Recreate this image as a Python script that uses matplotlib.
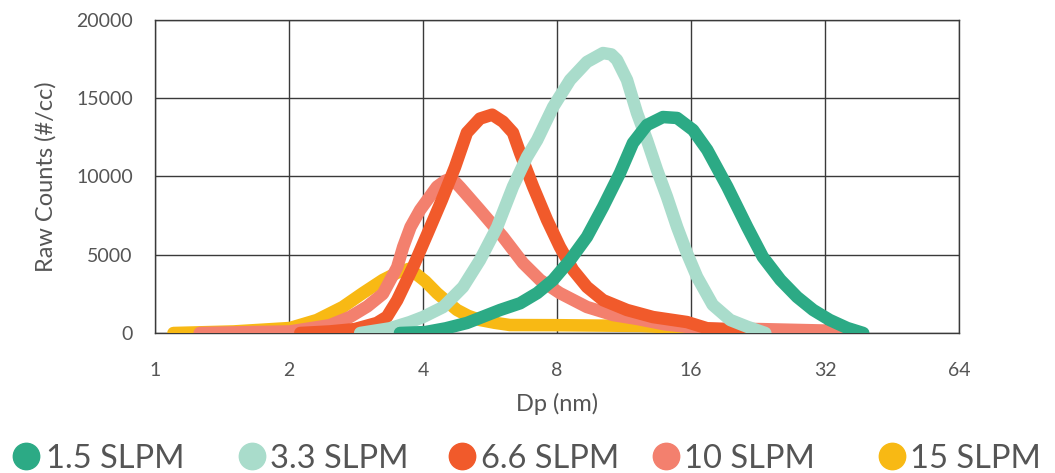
import matplotlib
matplotlib.use("Agg")
import matplotlib.pyplot as plt
from matplotlib.lines import Line2D
from matplotlib.ticker import FixedLocator, FixedFormatter

# ---- data ----
labels = ["1.5 SLPM", "3.3 SLPM", "6.6 SLPM", "10 SLPM", "15 SLPM"]
colors = ["#2CAA85", "#A9DCCB", "#F15A2B", "#F3806E", "#F8B914"]

# Dp (nm) and raw counts (#/cc)
x_15 = [3.55, 4.05, 4.5, 5.02, 5.96, 6.61, 7.22, 7.84, 8.56, 9.34, 10.15, 11.08,
        11.85, 12.74, 13.84, 14.89, 16.17, 17.4, 19.3, 21.4, 23.2, 25.4, 27.7,
        30.1, 32.8, 35.9, 39.0]
y_15 = [0, 60, 300, 640, 1470, 1900, 2550, 3390, 4660, 6140, 8050, 10220,
        12140, 13290, 13800, 13740, 12970, 11700, 9350, 6770, 4860, 3400, 2300,
        1470, 830, 320, 0]

x_33 = [2.89, 3.37, 3.74, 4.0, 4.44, 4.92, 5.37, 5.87, 6.37, 6.85, 7.22, 7.84,
        8.56, 9.34, 10.15, 10.6, 10.91, 11.49, 12.1, 12.74, 13.42, 14.13, 14.89,
        15.67, 16.51, 17.9, 19.6, 21.4, 23.5]
y_33 = [0, 300, 700, 1020, 1660, 2940, 4660, 6770, 9350, 11250, 12330, 14440,
        16170, 17320, 17890, 17800, 17450, 16170, 14060, 12330, 10420, 8700, 6770,
        5100, 3580, 1800, 830, 400, 0]

x_66 = [2.12, 2.47, 2.81, 3.15, 3.32, 3.50, 3.80, 4.10, 4.41, 4.72, 5.02, 5.37,
        5.72, 6.05, 6.37, 6.61, 7.07, 7.60, 8.12, 8.69, 9.34, 10.15, 11.49,
        13.14, 15.67, 17.4, 19.6, 21.2]
y_66 = [0, 100, 250, 640, 1040, 2100, 4220, 6390, 8500, 10600, 12800, 13700,
        13950, 13500, 12800, 11500, 9350, 7220, 5500, 4030, 2940, 2100, 1470,
        1020, 700, 300, 200, 0]

x_10 = [1.26, 2.01, 2.47, 2.74, 3.0, 3.25, 3.5, 3.61, 3.75, 3.94, 4.30, 4.50,
        4.65, 4.85, 5.37, 6.05, 6.71, 7.33, 8.12, 9.34, 10.69, 12.1, 14.0,
        16.8, 22.9, 32.8, 35.5]
y_10 = [0, 100, 500, 1020, 1700, 2500, 4200, 5500, 6770, 7860, 9350, 9750,
        9850, 9300, 7860, 6140, 4470, 3390, 2550, 1660, 1150, 900, 550,
        300, 250, 150, 0]

x_150 = [1.1, 1.5, 2.01, 2.31, 2.64, 2.93, 3.25, 3.5, 3.72, 3.85, 4.05, 4.30,
         4.55, 4.77, 5.05, 5.37, 5.8, 6.27, 8.0, 12.3, 16.0, 18.5]
y_150 = [0, 100, 320, 830, 1660, 2550, 3390, 3850, 4100, 3800, 3300, 2550,
         1950, 1470, 1100, 830, 650, 510, 500, 450, 300, 0]

series_x = [x_15, x_33, x_66, x_10, x_150]
series_y = [y_15, y_33, y_66, y_10, y_150]

x_ticks = [1, 2, 4, 8, 16, 32, 64]
x_tick_labels = ["1", "2", "4", "8", "16", "32", "64"]
y_ticks = [0, 5000, 10000, 15000, 20000]
y_tick_labels = ["0", "5000", "10000", "15000", "20000"]

plt.rcParams['font.family'] = ['Lato', 'DejaVu Sans']
text_color = "#555555"

W, H = 1055, 473
fig = plt.figure(figsize=(W / 100, H / 100), dpi=100)
ax = fig.add_axes([155/W, 1-333/H, (959-155)/W, (333-20)/H])

# draw bottom-to-top: 15, 10, 6.6, 3.3, 1.5
for i in [4, 3, 2, 1, 0]:
    ax.plot(series_x[i], series_y[i], color=colors[i], lw=9,
            solid_capstyle='round', solid_joinstyle='round', zorder=3 + (4 - i))

ax.set_xscale('log', base=2)
ax.set_xlim(1, 64)
ax.set_ylim(0, 20000)
ax.xaxis.set_major_locator(FixedLocator(x_ticks))
ax.xaxis.set_major_formatter(FixedFormatter(x_tick_labels))
ax.xaxis.set_minor_locator(FixedLocator([]))
ax.yaxis.set_major_locator(FixedLocator(y_ticks))
ax.yaxis.set_major_formatter(FixedFormatter(y_tick_labels))

ax.grid(True, color="#3a3a3a", lw=1.0, zorder=1)
for s in ax.spines.values():
    s.set_color("#3a3a3a")
    s.set_linewidth(1.0)
ax.tick_params(axis='both', length=0, labelsize=14, colors=text_color)
ax.tick_params(axis='x', pad=21)
ax.tick_params(axis='y', pad=16)

ax.set_xlabel("Dp (nm)", fontsize=17, color=text_color, labelpad=10)
ax.set_ylabel("Raw Counts (#/cc)", fontsize=17, color=text_color, labelpad=14)

# legend laid out manually below the axes (figure pixel positions)
marker_px = [26, 252, 462, 666, 892]
text_px = [46, 270, 481, 684, 910]
leg_y = 1 - 456 / H
for c, lab, mx, tx in zip(colors, labels, marker_px, text_px):
    fig.add_artist(Line2D([mx / W], [leg_y], marker='o', ls='none', markersize=19,
                          markerfacecolor=c, markeredgecolor=c,
                          transform=fig.transFigure))
    fig.text(tx / W, leg_y, lab, fontsize=23.5, color=text_color,
             ha='left', va='center_baseline')

fig.savefig("out.png", dpi=100, facecolor="white")
